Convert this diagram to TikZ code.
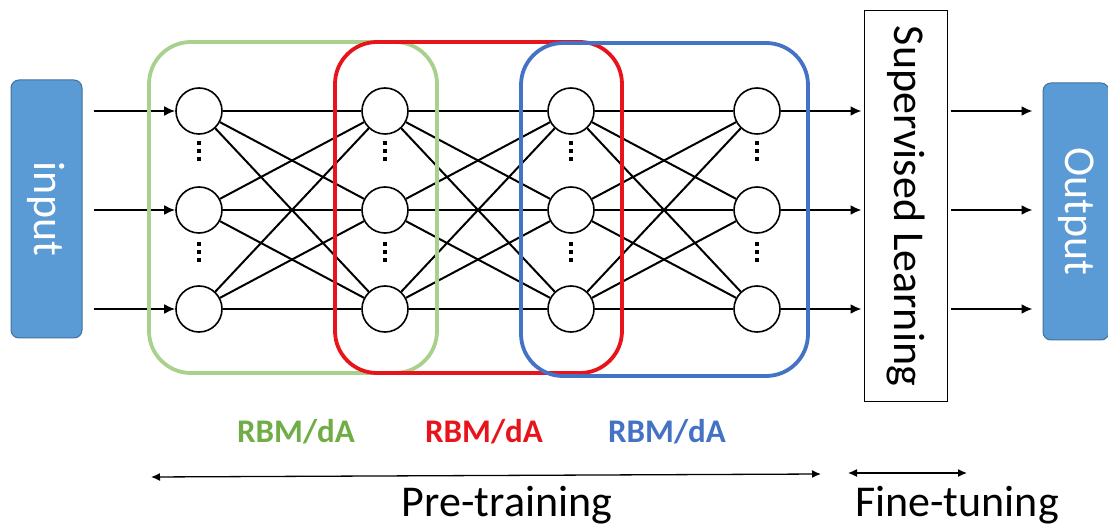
\documentclass[tikz,border=0pt]{standalone}
\usepackage{fontspec}
\setmainfont{Carlito}
\usetikzlibrary{arrows.meta}
\definecolor{boxblue}{HTML}{5B9BD5}
\definecolor{boxedge}{HTML}{41719C}
\definecolor{rbmgreen}{HTML}{A9D18E}
\definecolor{rbmred}{HTML}{E8141C}
\definecolor{rbmblue}{HTML}{4472C4}
\definecolor{txtgreen}{HTML}{70AD47}

\tikzset{
  neuron/.style={circle, draw, line width=1.6pt, fill=white, minimum size=46pt, inner sep=0pt},
  link/.style={line width=2pt},
  feed/.style={line width=2pt, -{Latex[length=11pt,width=10pt]}},
  iobox/.style={fill=boxblue, draw=boxedge, line width=1pt, rounded corners=8pt, text=white},
  rbm/.style={line width=3.8pt, rounded corners=42pt},
  rbmlabel/.style={font=\fontsize{33}{36}\selectfont\bfseries, anchor=base},
  phase/.style={line width=1.3pt, {Latex[length=9pt,width=8pt]}-{Latex[length=9pt,width=8pt]}},
  bigtext/.style={font=\fontsize{44}{48}\selectfont}
}

\begin{document}
\begin{tikzpicture}[x=1pt,y=-1pt]
\useasboundingbox (0,0) rectangle (1108,526);

% input / output and the supervised layer
\node[iobox, bigtext, minimum width=71pt, minimum height=258pt] (inp) at (46.5,209) {\rotatebox{-90}{input}};
\node[iobox, bigtext, minimum width=66pt, minimum height=257pt] (outp) at (1076,211.5) {\rotatebox{-90}{Output}};
\node[draw, line width=1pt, bigtext, minimum width=83pt, minimum height=390pt] (sup) at (905.5,206) {\rotatebox{-90}{Supervised Learning}};

% neurons
\foreach \c/\x in {1/199,2/385,3/571,4/757}
  \foreach \r/\y in {1/111,2/210,3/309}
    \node[neuron] (n\c\r) at (\x,\y) {};

% full connections between layers
\foreach \c/\d in {1/2,2/3,3/4}
  \foreach \r in {1,2,3}
    \foreach \s in {1,2,3}
      \draw[link] (n\c\r) -- (n\d\s);

% vertical dots
\foreach \x in {199,385,571,757}
  \foreach \y in {151,252}
    \foreach \k in {-8,0,8}
      \fill (\x-1.7,\y+\k-1.7) rectangle (\x+1.7,\y+\k+1.7);

% feed arrows
\foreach \r in {1,2,3} {
  \draw[feed, shorten <=11pt] (inp.east |- n1\r) -- (n1\r);
  \draw[feed, shorten >=2pt] (n4\r) -- (sup.west |- n4\r);
  \draw[feed, shorten <=3pt, shorten >=10pt] (sup.east |- n4\r) -- (outp.west |- n4\r);
}

% RBM/dA groups
\draw[rbm, rbmgreen] (149,42) rectangle (437,373);
\draw[rbm, rbmred] (335,42) rectangle (622,373);
\draw[rbm, rbmblue] (521,43) rectangle (808,376);

\node[rbmlabel, text=txtgreen] (lab1) at (296,442) {RBM/dA};
\node[rbmlabel, text=rbmred] (lab2) at (484,442) {RBM/dA};
\node[rbmlabel, text=rbmblue] (lab3) at (667,442) {RBM/dA};

% training phases
\coordinate (pre-l) at (151,477);
\coordinate (pre-r) at (821,474);
\draw[phase] (pre-l) -- (pre-r);
\coordinate (fine-l) at (848,473);
\coordinate (fine-r) at (967,473);
\draw[phase] (fine-l) -- (fine-r);
\node[bigtext, anchor=base] (pre) at (507,516) {Pre-training};
\node[bigtext, anchor=base] (fine) at (957,516) {Fine-tuning};
\end{tikzpicture}
\end{document}
